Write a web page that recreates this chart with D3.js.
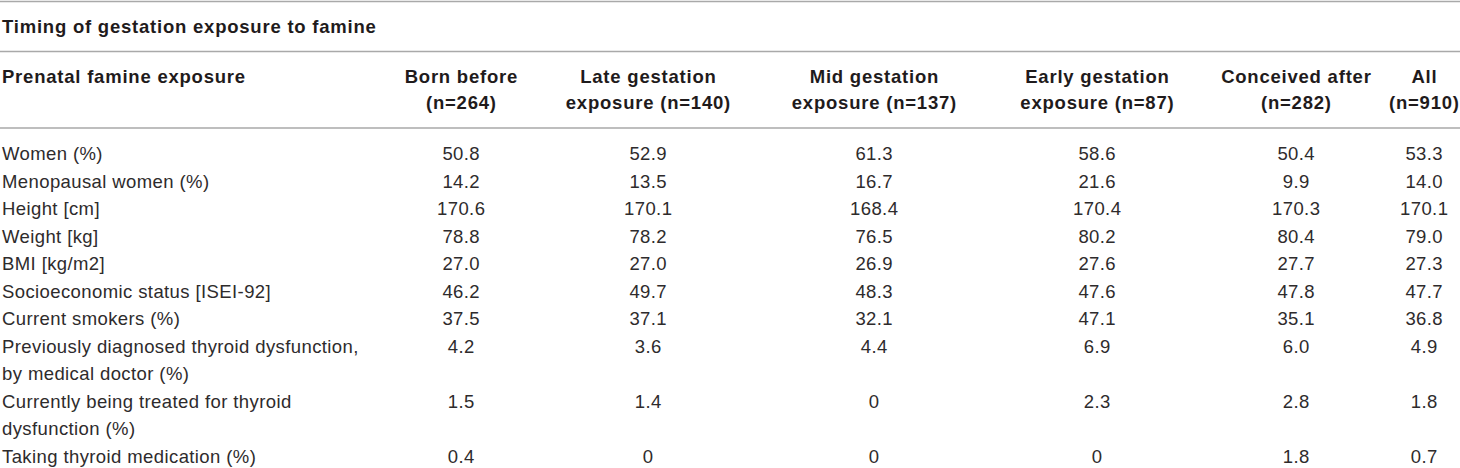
<!DOCTYPE html>
<html>
<head>
<meta charset="utf-8">
<script src="https://cdn.jsdelivr.net/npm/d3@7"></script>
<style>
  html, body { margin: 0; padding: 0; background: #fff; }
  svg { display: block; }
</style>
</head>
<body>
<svg id="chart" width="1460" height="468"></svg>
<script>
// ---- data ----
const title = "Timing of gestation exposure to famine";
const stubHeader = "Prenatal famine exposure";
const columns = ["bornBefore", "lateGestation", "midGestation", "earlyGestation", "conceivedAfter", "all"];
const columnHeaders = [
  ["Born before", "(n=264)"],
  ["Late gestation", "exposure (n=140)"],
  ["Mid gestation", "exposure (n=137)"],
  ["Early gestation", "exposure (n=87)"],
  ["Conceived after", "(n=282)"],
  ["All", "(n=910)"]
];
const rowLabels = [
  ["Women (%)"],
  ["Menopausal women (%)"],
  ["Height [cm]"],
  ["Weight [kg]"],
  ["BMI [kg/m2]"],
  ["Socioeconomic status [ISEI-92]"],
  ["Current smokers (%)"],
  ["Previously diagnosed thyroid dysfunction,", "by medical doctor (%)"],
  ["Currently being treated for thyroid", "dysfunction (%)"],
  ["Taking thyroid medication (%)"]
];
const bornBefore     = ["50.8", "14.2", "170.6", "78.8", "27.0", "46.2", "37.5", "4.2", "1.5", "0.4"];
const lateGestation  = ["52.9", "13.5", "170.1", "78.2", "27.0", "49.7", "37.1", "3.6", "1.4", "0"];
const midGestation   = ["61.3", "16.7", "168.4", "76.5", "26.9", "48.3", "32.1", "4.4", "0", "0"];
const earlyGestation = ["58.6", "21.6", "170.4", "80.2", "27.6", "47.6", "47.1", "6.9", "2.3", "0"];
const conceivedAfter = ["50.4", "9.9", "170.3", "80.4", "27.7", "47.8", "35.1", "6.0", "2.8", "1.8"];
const allValues      = ["53.3", "14.0", "170.1", "79.0", "27.3", "47.7", "36.8", "4.9", "1.8", "0.7"];
const seriesValues = [bornBefore, lateGestation, midGestation, earlyGestation, conceivedAfter, allValues];

// ---- layout ----
const W = 1460, H = 468;
const font = "'Liberation Sans', Arial, Helvetica, sans-serif";
const fontSize = 18.5;
const boldLS = 0.78, regLS = 0.4;
const boldColor = "#1f1b1c";
const regColor = "#2e2b2c";
const ruleColor = "#a9a9a9";
const colCenters = [461, 648, 874, 1097, 1296, 1424];
const x = d3.scaleOrdinal().domain(columns).range(colCenters);

// build row line index
let lineIdx = 0;
const rows = rowLabels.map((lab, i) => {
  const r = { label: lab, start: lineIdx, values: columns.map((c, j) => ({ col: c, v: seriesValues[j][i] })) };
  lineIdx += lab.length;
  return r;
});
const totalLines = lineIdx;
const y = d3.scaleLinear().domain([0, totalLines - 1]).range([153.5, 456.5]);
const headerY = d3.scaleLinear().domain([0, 1]).range([77, 103]);

const svg = d3.select("#chart");
svg.append("rect").attr("width", W).attr("height", H).attr("fill", "#fff");

// rules
const rules = [1.5, 51.5, 128];
svg.selectAll("line.rule").data(rules).join("line")
  .attr("class", "rule")
  .attr("x1", 0).attr("x2", W)
  .attr("y1", d => d).attr("y2", d => d)
  .attr("stroke", ruleColor).attr("stroke-width", 1.6);

const g = svg.append("g")
  .attr("font-family", font)
  .attr("font-size", fontSize);

// title
g.append("text").attr("x", 2).attr("y", 27).attr("dy", "0.35em")
  .attr("font-weight", "bold").attr("letter-spacing", boldLS).attr("fill", boldColor).text(title);

// stub header
g.append("text").attr("x", 2).attr("y", headerY(0)).attr("dy", "0.35em")
  .attr("font-weight", "bold").attr("letter-spacing", boldLS).attr("fill", boldColor).text(stubHeader);

// column headers
const hdr = g.selectAll("g.hdr").data(columns.map((c, i) => ({ c, lines: columnHeaders[i] }))).join("g").attr("class", "hdr");
hdr.selectAll("text").data(d => d.lines.map((t, k) => ({ t, k, c: d.c }))).join("text")
  .attr("x", d => x(d.c) + boldLS / 2)
  .attr("y", d => headerY(d.k))
  .attr("dy", "0.35em")
  .attr("text-anchor", "middle")
  .attr("font-weight", "bold")
  .attr("letter-spacing", boldLS)
  .attr("fill", boldColor)
  .text(d => d.t);

// row labels
const rg = g.selectAll("g.row").data(rows).join("g").attr("class", "row");
rg.selectAll("text.lab").data(d => d.label.map((t, k) => ({ t, line: d.start + k }))).join("text")
  .attr("class", "lab")
  .attr("x", 2)
  .attr("y", d => y(d.line))
  .attr("dy", "0.35em")
  .attr("letter-spacing", regLS)
  .attr("fill", regColor)
  .text(d => d.t);

// values
rg.selectAll("text.val").data(d => d.values.map(v => ({ ...v, line: d.start }))).join("text")
  .attr("class", "val")
  .attr("x", d => x(d.col) + regLS / 2)
  .attr("y", d => y(d.line))
  .attr("dy", "0.35em")
  .attr("text-anchor", "middle")
  .attr("letter-spacing", regLS)
  .attr("fill", regColor)
  .text(d => d.v);
</script>
</body>
</html>
